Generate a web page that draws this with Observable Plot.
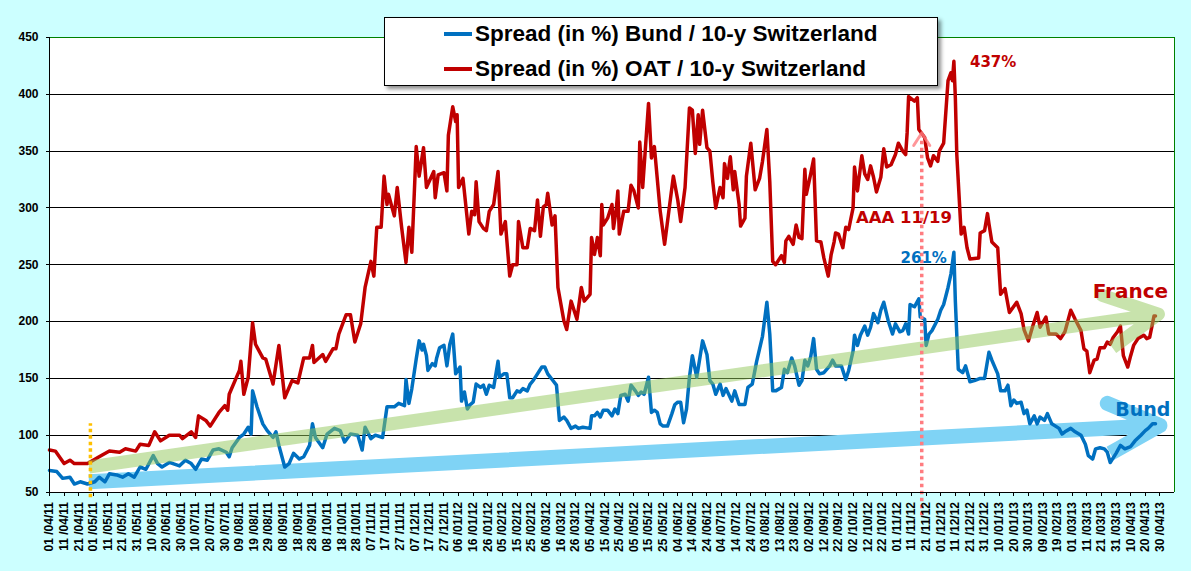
<!DOCTYPE html>
<html><head><meta charset="utf-8">
<script src="https://cdn.jsdelivr.net/npm/d3@7"></script>
<script src="https://cdn.jsdelivr.net/npm/@observablehq/plot@0.6"></script>
<style>
html,body{margin:0;padding:0;background:#CCFFFF;}
#wrap{position:relative;width:1191px;height:571px;overflow:hidden;background:#CCFFFF;}
#legend{position:absolute;left:384px;top:17px;width:552px;height:67px;background:#fff;border:1px solid #000;box-shadow:3px 3px 4px rgba(0,0,0,0.45);font-family:"Liberation Sans",Arial,sans-serif;font-weight:bold;font-size:22.5px;color:#000;}
.row{position:absolute;left:59px;height:30px;display:flex;align-items:center;white-space:nowrap;}
.sw{width:28px;height:4px;margin-right:3px;}
svg [aria-label="y-axis tick label"] text, svg [aria-label="x-axis tick label"] text{font-weight:bold;}
svg .grid line, svg [aria-label="y-axis tick"] path, svg [aria-label="x-axis tick"] path{shape-rendering:crispEdges;}
</style></head>
<body><div id="wrap"><div id="chart"></div><div id="legend"></div></div>
<script>
// ---- data (day offset from start date, spread in %) ----
const startDate = "2011-04-01";
const seriesNames = ["Spread (in %) Bund / 10-y Switzerland", "Spread (in %) OAT / 10-y Switzerland"];
const seriesColors = ["#0070C0", "#C00000"];

const bund = [[0,69],[5,68],[9,62],[14,63],[17,57],[21,59],[26,57],[31,59],[34,63],[38,59],[41,66],[46,65],[50,63],[54,66],[58,63],[62,72],[66,70],[71,82],[74,75],[77,72],[82,76],[89,73],[93,78],[97,75],[100,70],[104,79],[108,78],[112,87],[116,88],[121,85],[123,81],[125,89],[130,98],[133,101],[136,107],[138,101],[139,139],[142,125],[146,110],[149,104],[153,98],[155,103],[157,91],[161,72],[164,75],[167,84],[171,79],[174,81],[178,91],[180,110],[182,98],[187,89],[190,101],[195,106],[199,104],[202,94],[206,101],[211,100],[214,87],[216,107],[220,97],[223,100],[228,98],[231,125],[236,125],[239,128],[243,126],[244,149],[246,128],[248,141],[251,167],[253,183],[255,175],[256,180],[258,170],[259,157],[262,163],[264,161],[265,168],[267,177],[270,179],[272,161],[274,180],[276,189],[278,154],[281,160],[282,130],[284,138],[286,123],[288,127],[290,129],[292,145],[295,142],[297,144],[299,136],[301,144],[304,142],[307,165],[308,151],[311,154],[313,154],[315,133],[317,133],[320,139],[322,138],[324,141],[327,139],[329,145],[331,148],[333,152],[337,160],[339,160],[341,154],[344,149],[347,144],[349,113],[352,116],[354,113],[357,106],[360,108],[362,106],[365,107],[370,106],[371,117],[373,117],[375,120],[377,116],[379,122],[382,122],[385,117],[387,123],[389,119],[391,135],[394,136],[396,130],[398,144],[401,139],[403,135],[405,138],[407,136],[410,151],[412,120],[414,122],[416,120],[418,110],[420,108],[423,108],[426,119],[428,127],[430,129],[432,129],[434,111],[436,123],[438,151],[440,170],[443,151],[447,183],[450,171],[452,148],[454,145],[456,136],[459,145],[461,135],[463,141],[467,130],[469,139],[472,127],[476,127],[478,142],[481,145],[484,165],[486,176],[488,187],[491,217],[493,189],[495,139],[497,139],[501,142],[503,158],[505,155],[508,168],[510,161],[513,144],[515,148],[517,166],[519,161],[521,169],[523,185],[525,158],[527,154],[530,155],[534,161],[536,166],[538,161],[542,161],[545,149],[547,157],[550,174],[551,188],[553,179],[555,188],[558,196],[560,188],[562,195],[564,207],[567,199],[569,210],[571,217],[574,201],[577,189],[579,198],[582,191],[584,192],[586,198],[588,189],[589,215],[592,213],[595,220],[596,204],[599,202],[600,179],[602,189],[604,192],[608,202],[610,210],[612,215],[615,230],[617,242],[619,261],[620,218],[622,158],[625,155],[627,161],[630,147],[633,148],[637,150],[640,150],[643,173],[645,166],[649,154],[651,139],[654,139],[656,144],[658,126],[660,131],[662,128],[665,129],[667,119],[669,122],[671,110],[674,117],[676,110],[678,116],[681,113],[683,119],[686,110],[691,106],[693,101],[695,103],[699,106],[702,103],[706,100],[709,92],[711,82],[714,79],[716,88],[719,89],[722,88],[724,85],[726,76],[730,84],[733,91],[736,88],[740,90],[743,95],[747,100],[750,104],[752,106],[755,110],[757,110]];

const oat = [[0,87],[4,86],[10,75],[14,78],[17,75],[26,75],[34,81],[41,86],[48,85],[52,88],[59,86],[62,92],[68,91],[72,103],[76,95],[82,100],[89,100],[91,97],[97,103],[100,98],[102,117],[107,113],[110,108],[116,120],[120,126],[122,122],[123,136],[130,157],[131,165],[133,136],[136,151],[139,199],[141,180],[146,168],[148,167],[153,145],[157,179],[161,133],[166,148],[170,146],[174,168],[178,168],[180,179],[181,164],[187,171],[189,165],[194,176],[196,176],[198,189],[203,206],[206,206],[209,182],[213,198],[216,230],[220,253],[222,240],[224,283],[227,283],[229,328],[231,303],[232,312],[236,293],[238,318],[241,283],[244,252],[246,283],[248,261],[251,354],[253,328],[256,353],[258,318],[263,332],[264,309],[266,329],[270,331],[272,315],[273,364],[276,389],[278,376],[279,382],[280,318],[283,326],[287,277],[289,297],[291,294],[292,323],[294,288],[297,282],[299,280],[301,297],[304,303],[307,332],[309,277],[312,288],[315,240],[317,250],[320,250],[321,288],[324,265],[327,265],[329,282],[332,280],[334,307],[336,275],[338,301],[340,303],[341,313],[344,285],[346,293],[348,230],[352,201],[354,193],[357,218],[361,202],[364,230],[366,218],[370,224],[371,274],[373,259],[375,274],[377,258],[378,303],[379,285],[382,291],[385,303],[386,282],[388,300],[389,315],[390,277],[393,297],[396,297],[398,320],[400,315],[403,300],[404,358],[406,318],[410,392],[412,344],[414,354],[418,297],[421,268],[423,288],[427,328],[430,307],[432,288],[435,318],[438,388],[440,386],[442,348],[444,382],[445,356],[447,386],[450,353],[452,350],[454,323],[456,300],[459,318],[461,309],[462,339],[464,326],[466,345],[468,316],[469,332],[472,303],[473,284],[476,291],[477,328],[480,357],[483,316],[486,326],[488,341],[491,369],[493,323],[495,253],[497,250],[501,258],[503,252],[504,271],[506,275],[509,268],[511,285],[513,274],[515,273],[517,334],[518,312],[521,330],[523,343],[525,271],[528,270],[530,256],[533,240],[535,259],[537,270],[538,278],[540,277],[543,265],[545,283],[547,281],[550,300],[551,336],[553,315],[556,346],[558,330],[560,325],[562,337],[564,327],[566,314],[569,327],[571,352],[573,336],[576,338],[579,347],[581,357],[584,350],[586,347],[587,366],[588,398],[592,394],[594,397],[595,369],[599,362],[601,344],[603,337],[605,346],[608,341],[609,350],[612,357],[615,412],[617,419],[618,412],[619,429],[620,397],[621,347],[624,277],[626,283],[628,265],[630,255],[636,256],[637,278],[640,280],[642,295],[643,286],[645,270],[649,265],[651,224],[654,229],[657,208],[662,217],[665,207],[667,193],[670,183],[673,196],[676,208],[678,195],[682,204],[684,189],[689,189],[692,185],[695,191],[699,210],[702,202],[706,192],[708,176],[710,174],[712,155],[715,166],[717,167],[719,177],[722,177],[724,182],[726,180],[728,186],[731,191],[733,196],[735,170],[738,160],[740,170],[742,179],[745,185],[749,188],[751,185],[753,186],[756,205],[757,205]];

const yTicks = [50,100,150,200,250,300,350,400,450];
const xTickDays = d3.range(0, 761, 10);   // a label every 10 days, 01/04/11 .. 30/04/13
const xEndDay = 770;

// annotations: [day, value, text]
const annotations = [
  {day:630, value:428, text:"437%", color:"#C00000", size:15},
  {day:552, value:291, text:"AAA 11/19", color:"#C00000", size:16.5},
  {day:582.5, value:255.6, text:"261%", color:"#0070C0", size:15},
  {day:714, value:226.5, text:"France", color:"#C00000", size:20},
  {day:729.5, value:122.6, text:"Bund", color:"#0070C0", size:19}
];
// trend arrows: shaft start, tip, upper arm, tip, lower arm
const greenArrow = [[27,72],[759,206.5],[720.5,223],[759,206.5],[727.5,177]];
const blueArrow  = [[27,59],[760,108.5],[724,128],[760,108.5],[726,84]];
const aaaDay = 597;         // Moody's AAA downgrade marker
const startMarkerDay = 28;  // orange marker

// ---- build ----
const start = d3.utcParse("%Y-%m-%d")(startDate);
const toDate = d => new Date(start.getTime() + d * 864e5);
const rows = arr => arr.map(([d, v]) => ({date: toDate(d), value: v}));
const bundRows = rows(bund), oatRows = rows(oat);
const xTicks = xTickDays.map(toDate);
const fmt = d3.utcFormat("%d /%m/%y");

const chart = Plot.plot({
  width: 1191, height: 571,
  marginLeft: 49, marginRight: 17, marginTop: 37, marginBottom: 79.5,
  style: {background: "#CCFFFF", fontFamily: "Liberation Sans, Arial, sans-serif", overflow: "visible", color: "#000"},
  x: {type: "utc", domain: [start, toDate(xEndDay)]},
  y: {domain: [50, 450]},
  marks: [
    Plot.frame({fill: "white", stroke: "none"}),
    Plot.ruleY(yTicks.filter(v => v > 50 && v < 450), {stroke: "#000", strokeWidth: 1, className: "grid"}),
    Plot.ruleY([450], {stroke: "#008000", strokeWidth: 1, className: "grid"}),
    Plot.ruleX([toDate(xEndDay)], {stroke: "#008000", strokeWidth: 1, className: "grid"}),
    Plot.line(rows(blueArrow), {x: "date", y: "value", stroke: "#7FD3F5", strokeWidth: 15, strokeLinecap: "butt", strokeLinejoin: "round"}),
    Plot.line(bundRows, {x: "date", y: "value", stroke: seriesColors[0], strokeWidth: 3.5, strokeLinejoin: "round"}),
    Plot.line(oatRows, {x: "date", y: "value", stroke: seriesColors[1], strokeWidth: 3.5, strokeLinejoin: "round"}),
    Plot.line(rows(greenArrow), {x: "date", y: "value", stroke: "#92C85A", strokeOpacity: 0.5, strokeWidth: 13, strokeLinecap: "butt", strokeLinejoin: "round"}),
    Plot.ruleX([{date: toDate(aaaDay), y1: 29, y2: 362}], {x: "date", y1: "y1", y2: "y2", stroke: "#FF7C80", strokeWidth: 3.5, strokeDasharray: "3.5,3.5"}),
    Plot.line(rows([[591.5,355],[aaaDay,366],[602.5,355]]), {x: "date", y: "value", stroke: "#FF7C80", strokeOpacity: 0.8, strokeWidth: 3}),
    Plot.ruleX([{date: toDate(startMarkerDay), y1: 45, y2: 110}], {x: "date", y1: "y1", y2: "y2", stroke: "#FFC000", strokeWidth: 3.5, strokeDasharray: "3.5,3"}),
    Plot.ruleX([start], {stroke: "#000", strokeWidth: 1, className: "grid"}),
    Plot.ruleY([50], {stroke: "#000", strokeWidth: 1, className: "grid"}),
    ...annotations.map(a => Plot.text([a], {x: d => toDate(d.day), y: "value", text: "text", fill: a.color, fontSize: a.size, fontWeight: "bold", fontFamily: "DejaVu Sans, sans-serif", textAnchor: "start"})),
    Plot.axisY({ticks: yTicks, tickSize: 3, tickPadding: 8, fontSize: 12, fontWeight: "bold", fill: "#000", label: null}),
    Plot.axisX({ticks: xTicks, tickFormat: fmt, tickSize: 4, tickPadding: 6, tickRotate: -90, fontSize: 12, fontWeight: "bold", fill: "#000", label: null})
  ]
});
document.getElementById("chart").appendChild(chart);
// crisp grid lines (class may be applied to the group)
chart.querySelectorAll(".grid line, .grid").forEach(el => el.style.shapeRendering = "crispEdges");

// legend
const legend = document.getElementById("legend");
seriesNames.forEach((name, i) => {
  const row = document.createElement("div");
  row.className = "row";
  row.style.top = (i === 0 ? 1 : 36) + "px";
  const sw = document.createElement("div");
  sw.className = "sw"; sw.style.background = seriesColors[i];
  const t = document.createElement("span"); t.textContent = name;
  row.appendChild(sw); row.appendChild(t);
  legend.appendChild(row);
});
</script>
</body></html>
